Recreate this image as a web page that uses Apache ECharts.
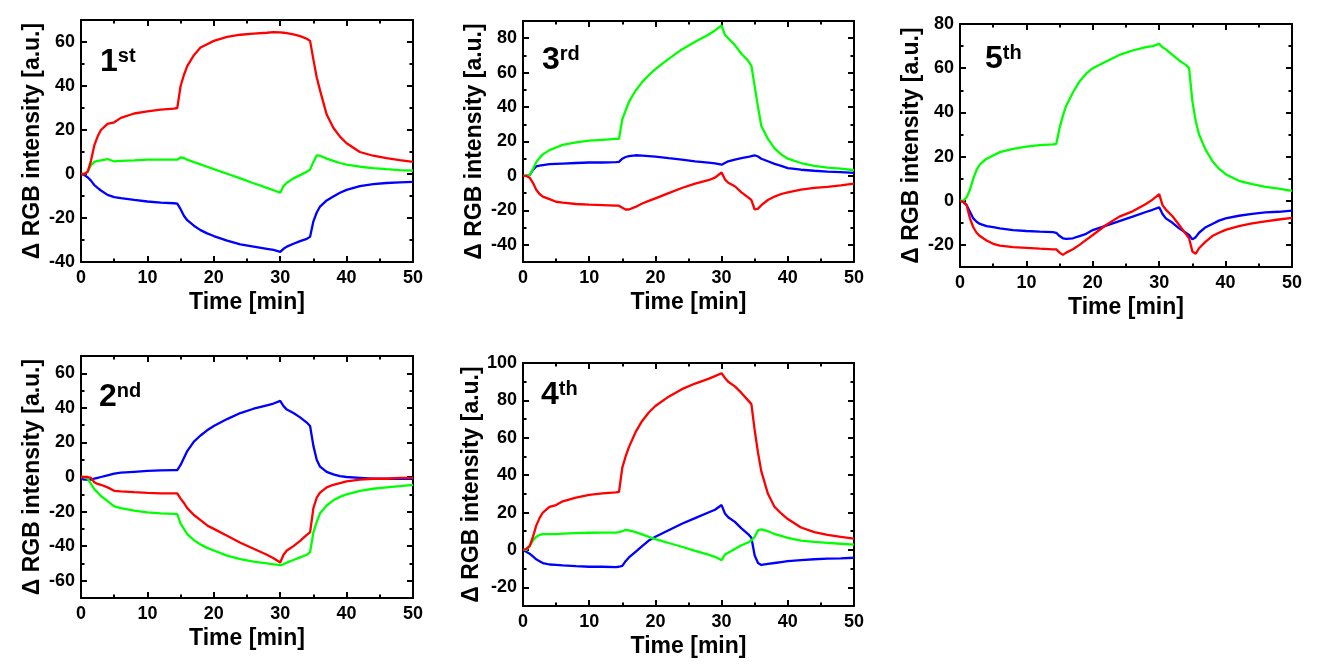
<!DOCTYPE html>
<html><head><meta charset="utf-8">
<script src="https://cdn.jsdelivr.net/npm/echarts@6/dist/echarts.min.js"></script>
<style>html,body{margin:0;padding:0;background:#fff}#c{width:1325px;height:669px}</style>
</head><body><div id="c"></div>
<script>
// Shared time axis (min)
const time = [0,0.5,1,1.5,2,2.5,3,4,5,6,8,10,12,14,14.5,15,15.5,16,17,18,19,20,22,24,26,28,29,30,30.5,31,32,33,34,34.5,35,35.5,36,37,38,39,40,42,44,46,48,50];

// 1st
const p1Red   = [0,0,1,6,13,17,20, 22.8,23.5,25.5,27.5,28.5,29.3,29.7, 30,40,45,49,54,57.5,59,60.5, 62.3,63.3,63.8,64.2,64.5,64.4, 64.2,64,63.5,62.7,61.5,60.5, 52,44,38,27,21,17,14, 10,8.3,7.2,6.3,5.5];
const p1Green = [0,0,1,4,5.5,6,6.2, 6.8,5.7,6,6.2,6.5,6.5,6.5, 6.5,7.5,7.3,6.5,5.4,4.4,3.3,2.2, 0.1,-2,-4.2,-6.3,-7.4,-8.5, -5.5,-4,-2,-0.5,1,2, 5.5,8.5,8.3,7,6,5,4.3, 3.3,2.7,2.2,1.8,1.5];
const p1Blue  = [0,-0.5,-1.5,-3,-5,-6.3,-7.5, -9.5,-10.5,-11,-11.8,-12.5,-13,-13.3, -13.5,-16,-19,-21,-23.5,-25.5,-27,-28.2, -30.3,-32,-33,-34,-34.5,-35.4, -34,-33,-31.7,-30.5,-29.5,-28.5, -21.5,-17.5,-14.8,-12,-10.2,-8.5,-7.2, -5.5,-4.6,-4.1,-3.8,-3.6];

// 2nd
const p2Red   = [0,0,0,-0.5,-3,-4,-4.5, -6,-8,-8.3,-8.8,-9.2,-9.5,-9.5, -9.5,-12.5,-15,-18,-22,-25,-28,-30, -34,-38,-41.5,-45,-47,-49.5, -45,-42.5,-40,-37,-33.5,-32, -18,-12,-9,-6,-4.5,-3.5,-2.5, -1.5,-1,-1,-0.5,-0.5];
const p2Green = [0,0,-1,-4,-7,-9,-11, -14,-17,-18,-19.5,-20.5,-21,-21.3, -21.5,-27,-30,-33,-36.5,-39,-41,-42.5, -45.5,-47.5,-49,-50,-50.5,-51, -50.5,-49.5,-48,-46.5,-45,-43.5, -32,-26,-21,-16.5,-13.5,-11.5,-10, -8,-6.8,-6,-5.3,-4.5];
const p2Blue  = [-1,-1.5,-1.5,-1.5,-1,-0.5,0, 1,2,2.5,3,3.5,3.8,4, 4,7,11,15,20.5,24,27,29.5, 33.5,37,39.5,41.5,42.5,44, 41,39,37,34.5,31.5,29.5, 18,10,6,3,1.5,0.5,0, -0.5,-1,-1,-1,-1];

// 3rd
const p3Red   = [0,0,-1,-4,-8,-10.5,-12, -13.5,-15,-15.5,-16.3,-16.7,-17,-17.3, -17.3,-18.5,-19.5,-19.5,-18,-16,-14.5,-13, -10,-7,-4.5,-2.5,-1,2, -2,-4,-6,-9.5,-12.5,-14, -19.5,-19,-17,-14,-12,-10.5,-9.5, -8,-7,-6.3,-5.5,-4.5];
const p3Green = [0,0,0.5,4,8,10.5,12.5, 15,16.5,18,19.5,20.5,21,21.5, 21.5,33,38,43,49.5,54.5,58.5,62, 68,73.5,78,82,84.5,87.5, 82,80,76,71,67,64, 52,40,29,21.5,16,12.5,10, 7.5,5.8,4.8,4.2,3.3];
const p3Blue  = [0,0,0.5,3.5,5.5,6,6.3, 6.8,7,7.2,7.5,7.8,7.8,8, 8.2,10,11,11.5,12,11.8,11.5,11.2, 10.3,9.5,8.5,7.7,7.3,6.5, 7.5,8.5,9.5,10.3,11,11.5, 12,11.3,10,8.5,7,5.8,4.5, 3.6,3,2.5,2.2,1.8];

// 4th
const p4Red   = [0,0.5,2,7,13,17,20, 23,24,26,28,29.5,30.3,30.8, 31,44,50,55,63,69,73.5,77, 82,86,89,91.5,93,94.5, 92,90,87.5,84,80,78, 64,52,42,30,23,19.5,16.5, 12,9.5,8,7,6];
const p4Green = [0,0,2,5,7,8,8.5, 8.5,8.5,8.7,9,9.2,9.3,9.3, 9.5,10,10.7,10.5,9.5,8.3,7,5.8, 3.7,1.7,-0.5,-2.5,-3.7,-5.5, -2.5,-1.5,0.5,2.5,4,5, 7,10.5,11,10,8.5,7.5,6.5, 5,4.3,3.8,3.3,2.8];
const p4Blue  = [0,-1,-2,-3.5,-5,-6,-7, -7.8,-8,-8.3,-8.7,-9,-9,-9.2, -9,-8.5,-6,-4,-1,2,5,7, 10.5,14,17,20,21.5,24, 19.5,17.5,15,11.5,8.5,6.5, -3,-7,-8,-7.5,-7,-6.5,-6, -5.5,-5,-4.7,-4.5,-4.2];

// 5th
const p5Red   = [0,-0.5,-2,-8,-12,-14.5,-16, -18,-19.5,-20.3,-21,-21.3,-21.7,-22, -22,-23.5,-24.5,-23.5,-22,-20,-17.7,-15.5, -11,-7.2,-4.8,-1.5,0.5,3, -2,-4,-7,-11,-15,-17, -23,-24,-21.5,-18.5,-16,-14.5,-13.2, -11.5,-10.3,-9.3,-8.5,-7.8];
const p5Green = [0,0,1.5,5,10,14,16.5, 19,20.5,22,23.5,24.5,25.2,25.5, 25.7,33,38.5,43,49,54,57.5,60, 63,66,68,69.5,70,71, 69.5,68.5,66,63.5,61.5,60, 45,36,30,23,18,14.5,12, 9,7.5,6.3,5.5,4.5];
const p5Blue  = [0,-0.5,-2,-5,-8,-9.5,-10.5, -11.5,-12,-12.5,-13.3,-13.7,-14,-14.2, -14.5,-16,-17,-17.3,-17,-16,-15,-13.3, -11.3,-9.2,-7.2,-5.1,-4.1,-3, -6,-8,-10,-12.5,-14.5,-15.5, -17.5,-16.5,-14.5,-12,-10.5,-9,-8, -6.8,-6,-5.3,-5,-4.5];

const panelNames = [['1','st'],['2','nd'],['3','rd'],['4','th'],['5','th']];
const panelSeries = [[p1Red,p1Green,p1Blue],[p2Red,p2Green,p2Blue],[p3Red,p3Green,p3Blue],[p4Red,p4Green,p4Blue],[p5Red,p5Green,p5Blue]];
const yRanges = [[-40,70],[-70,70],[-50,90],[-30,100],[-30,80]];
const xLabel = 'Time [min]';
const yLabel = 'Δ RGB intensity [a.u.]';

// layout (pixels)
const layout = [
  {left:81,  top:20,  width:332, height:242, lx:100, ly:46},
  {left:81,  top:356, width:332, height:242, lx:99,  ly:381},
  {left:523, top:21,  width:331, height:241, lx:542, ly:44},
  {left:523, top:363, width:331, height:243, lx:541, ly:379},
  {left:960, top:24,  width:332, height:243, lx:985, ly:43}
];
const colors = ['#ff0000','#00ff00','#0000ff'];
const FF = '"Liberation Sans", Arial, sans-serif';

const grids=[], xAxes=[], yAxes=[], series=[], graphics=[];
layout.forEach((L,i)=>{
  grids.push({left:L.left, top:L.top, width:L.width, height:L.height, containLabel:false});
  const lineS = {show:true, onZero:false, lineStyle:{color:'#000', width:2}};
  const tickS = {show:true, inside:true, length:6, lineStyle:{color:'#000', width:2}};
  const minorS = {show:true, splitNumber:2, length:3.5, lineStyle:{color:'#000', width:2}};
  [true,false].forEach(primary=>{
    xAxes.push({type:'value', gridIndex:i, position: primary?'bottom':'top', min:0, max:50, interval:10,
      axisLine:lineS, axisTick:tickS, minorTick:minorS, splitLine:{show:false}, minorSplitLine:{show:false},
      axisLabel:{show:primary, margin:7, fontSize:18, fontWeight:'bold', color:'#000', fontFamily:FF},
      name: primary?xLabel:'', nameLocation:'middle', nameGap:29,
      nameTextStyle:{fontSize:23, fontWeight:'bold', color:'#000', fontFamily:FF}});
    const [mn,mx] = yRanges[i];
    yAxes.push({type:'value', gridIndex:i, position: primary?'left':'right', min:mn, max:mx,
      splitNumber: Math.round((mx-mn)/20), minInterval:20, maxInterval:20,
      axisLine:lineS, axisTick:tickS, minorTick:minorS, splitLine:{show:false}, minorSplitLine:{show:false},
      axisLabel:{show:primary, margin:6, fontSize:18, fontWeight:'bold', color:'#000', fontFamily:FF,
        formatter: v => (Math.abs(v % 20) < 1e-9 ? String(Math.round(v)) : '')},
      name: primary?yLabel:'', nameLocation:'middle', nameGap:37,
      nameTextStyle:{fontSize:23, fontWeight:'bold', color:'#000', fontFamily:FF}});
  });
  panelSeries[i].forEach((arr,k)=>{
    series.push({type:'line', xAxisIndex:2*i, yAxisIndex:2*i, showSymbol:false, symbol:'none',
      lineStyle:{color:colors[k], width:2.3}, itemStyle:{color:colors[k]},
      data: time.map((t,j)=>[t, arr[j]]), animation:false, z:3-k});
  });
  graphics.push({type:'text', left:L.lx, top:L.ly, z:10,
    style:{text:'{a|'+panelNames[i][0]+'}{b|'+panelNames[i][1]+'}',
      rich:{a:{fontSize:32, fontWeight:'bold', fontFamily:FF, fill:'#000', color:'#000', verticalAlign:'bottom'},
            b:{fontSize:20, fontWeight:'bold', fontFamily:FF, fill:'#000', color:'#000', verticalAlign:'top', lineHeight:14}}}});
});

const chart = echarts.init(document.getElementById('c'), null, {renderer:'canvas'});
chart.setOption({animation:false, backgroundColor:'#fff', grid:grids, xAxis:xAxes, yAxis:yAxes, series:series, graphic:graphics});
</script></body></html>
